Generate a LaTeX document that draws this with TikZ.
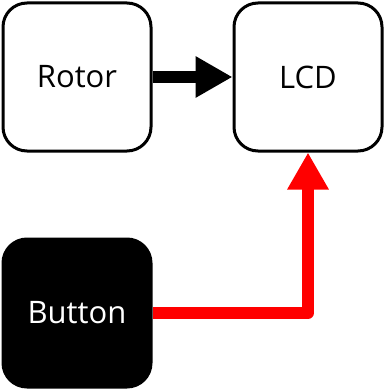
\documentclass[tikz,border=0pt]{standalone}
\usepackage{fontspec}
\setmainfont{Open Sans}
\usetikzlibrary{arrows.meta}
\begin{document}
\begin{tikzpicture}[x=1pt,y=-1pt,
  blockbox/.style={draw=black,line width=3pt,rounded corners=24pt,minimum width=148pt,minimum height=148pt,inner sep=0pt,font=\fontsize{31}{36}\selectfont},
  flow/.style={line width=12pt,-{Triangle[length=37pt,width=39pt]}}]
\useasboundingbox (0,0) rectangle (385,390);
\node[blockbox,fill=white] (rotor) at (77,77) {Rotor};
\node[blockbox,fill=white] (lcd) at (308,77) {LCD};
\node[blockbox,fill=black,text=white] (button) at (77,313) {Button};
\draw[flow,black] (rotor.east) -- (lcd.west);
\draw[flow,red,line join=round] (button.east) -| (lcd.south);
\end{tikzpicture}
\end{document}
